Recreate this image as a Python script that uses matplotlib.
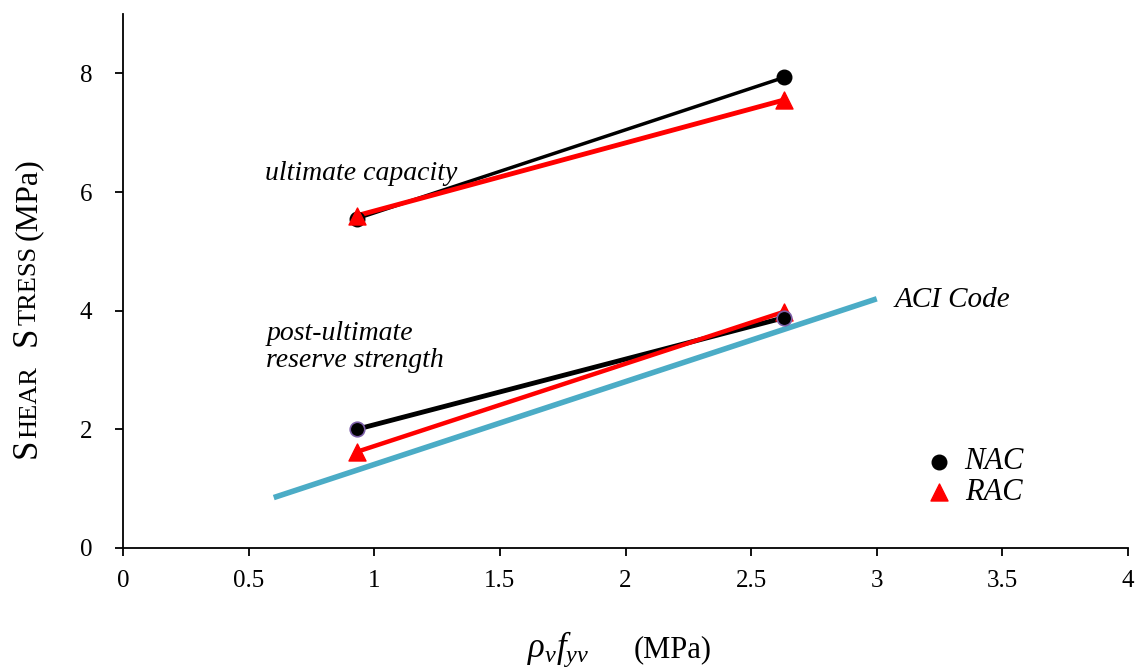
import matplotlib
matplotlib.use("Agg")
import matplotlib.pyplot as plt

# data
rho_fy = [0.93, 2.63]
nac_ultimate = [5.55, 7.93]
rac_ultimate = [5.60, 7.55]
nac_post = [2.00, 3.88]
rac_post = [1.62, 3.98]
aci_x = [0.60, 3.00]
aci_y = [0.85, 4.20]
xticks = [0, 0.5, 1, 1.5, 2, 2.5, 3, 3.5, 4]
xticklabels = ["0", "0.5", "1", "1.5", "2", "2.5", "3", "3.5", "4"]
yticks = [0, 2, 4, 6, 8]

plt.rcParams['font.family'] = ['Liberation Serif', 'DejaVu Serif']
plt.rcParams['mathtext.fontset'] = 'custom'
plt.rcParams['mathtext.rm'] = 'Liberation Serif'
plt.rcParams['mathtext.it'] = 'Liberation Serif:italic'

W, H = 1138, 667
fig = plt.figure(figsize=(W / 100, H / 100), dpi=100)
ax = fig.add_axes([123 / W, 1 - 548 / H, (1128 - 123) / W, (548 - 14) / H])

blue = '#4BACC6'
ax.plot(aci_x, aci_y, color=blue, lw=4, solid_capstyle='butt', zorder=2)
ax.plot(rho_fy, nac_ultimate, color='black', lw=2.5, zorder=3)
ax.plot(rho_fy, rac_ultimate, color='red', lw=3.5, zorder=4)
ax.plot(rho_fy, nac_post, color='black', lw=3.5, zorder=3)
ax.plot(rho_fy, rac_post, color='red', lw=3.2, zorder=4)

ax.scatter(rho_fy, nac_ultimate, s=110, color='black', zorder=5)
ax.scatter(rho_fy, rac_ultimate, s=150, marker='^', color='red', zorder=6)
ax.scatter(rho_fy, rac_post, s=150, marker='^', color='red', zorder=5)
ax.scatter(rho_fy, nac_post, s=110, color='black', edgecolors='#7B5EA7', linewidths=1.2, zorder=6)

ax.set_xlim(0, 4)
ax.set_ylim(0, 9)
ax.set_xticks(xticks)
ax.set_xticklabels(xticklabels)
ax.set_yticks(yticks)
for s in ['top', 'right']:
    ax.spines[s].set_visible(False)
for s in ['left', 'bottom']:
    ax.spines[s].set_linewidth(1.3)
ax.tick_params(direction='out', length=6, width=1.3, labelsize=18)
ax.tick_params(axis='x', pad=10)
ax.tick_params(axis='y', pad=16)

ax.text(0.565, 6.2, 'ultimate capacity', style='italic', fontsize=20)
ax.text(0.57, 3.05, 'post-ultimate\nreserve strength', style='italic', fontsize=20,
        linespacing=1.12, va='baseline')
ax.text(3.07, 4.07, 'ACI Code', style='italic', fontsize=21)

# legend
ax.scatter([3.248], [1.45], s=110, color='black')
ax.scatter([3.248], [0.94], s=150, marker='^', color='red')
ax.text(3.35, 1.45, 'NAC', style='italic', fontsize=22, va='center')
ax.text(3.35, 0.94, 'RAC', style='italic', fontsize=22, va='center')

# x label
fig.text(527 / W, 1 - 657 / H, r'$\rho_v f_{yv}$', fontsize=25, ha='left', va='baseline')
fig.text(634 / W, 1 - 657 / H, '(MPa)', fontsize=22, ha='left', va='baseline')

# y label in small caps, chained pieces (text, size, gap before in px)
fig.canvas.draw()
renderer = fig.canvas.get_renderer()
pieces = [('S', 25, 0), ('HEAR', 19, 1), ('S', 25, 20), ('TRESS', 19, 1), ('(MPa)', 23, 6)]
xb = 36 / W
ypix = 458
for txt, fs, gap in pieces:
    ypix -= gap
    t = fig.text(xb, 1 - ypix / H, txt, fontsize=fs, rotation=90, rotation_mode='anchor',
                 ha='left', va='baseline')
    bb = t.get_window_extent(renderer)
    ypix -= bb.height

fig.savefig('out.png', dpi=100)
